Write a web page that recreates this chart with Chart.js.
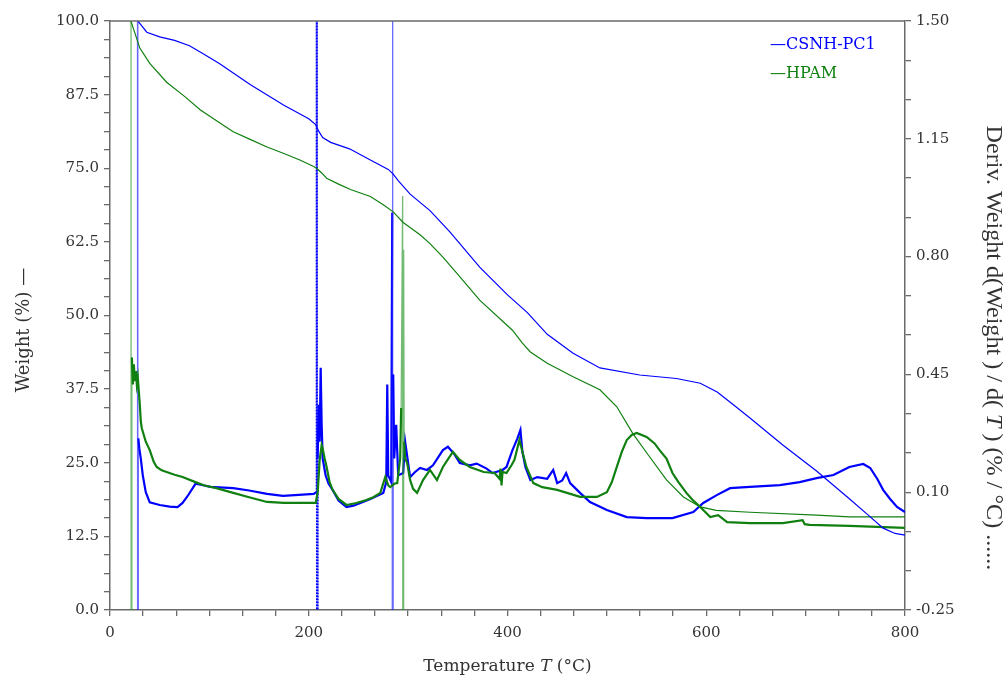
<!DOCTYPE html>
<html>
<head>
<meta charset="utf-8">
<script src="https://cdn.jsdelivr.net/npm/chart.js@4.4.0/dist/chart.umd.min.js"></script>
<style>
  html, body { margin: 0; padding: 0; background: #fff; }
  #wrap { width: 1004px; height: 680px; }
</style>
</head>
<body>
<div id="wrap"><canvas id="tga" width="1004" height="680"></canvas></div>
<script>
'use strict';

// weight curves (T in °C, weight in %)
var csnhWeightT = [28, 31, 37, 50, 65, 80, 95, 110, 141, 175, 200, 207, 210, 214, 222, 241, 262, 280, 285, 290, 302, 322, 342, 372, 400, 420, 440, 466, 493, 533, 570, 594, 611, 627, 644, 677, 711, 744, 761, 778, 790, 800];
var csnhWeight  = [100, 99.4, 98.1, 97.3, 96.7, 95.8, 94.3, 92.8, 89.2, 85.7, 83.4, 82.4, 81.3, 80.2, 79.4, 78.3, 76.4, 74.8, 74.0, 72.9, 70.6, 67.8, 64.2, 58.2, 53.5, 50.5, 46.8, 43.6, 41.1, 39.9, 39.3, 38.5, 37.0, 34.9, 32.6, 28.0, 23.6, 18.9, 16.4, 13.9, 13.0, 12.7];

var hpamWeightT = [21, 24, 30, 40, 57, 75, 91, 108, 124, 141, 158, 175, 191, 205, 208, 213, 218, 230, 242, 262, 275, 285, 295, 303, 312, 322, 335, 350, 372, 405, 415, 423, 440, 466, 493, 510, 526, 540, 560, 577, 594, 610, 644, 711, 744, 800];
var hpamWeight  = [100, 98.5, 95.4, 92.8, 89.6, 87.2, 84.9, 83.0, 81.2, 79.9, 78.6, 77.5, 76.4, 75.3, 75.0, 74.2, 73.3, 72.3, 71.4, 70.2, 68.8, 67.6, 65.8, 64.8, 63.7, 62.2, 59.9, 57.0, 52.6, 47.5, 45.3, 43.8, 41.9, 39.6, 37.4, 34.5, 30.0, 26.7, 22.1, 19.2, 17.5, 16.9, 16.6, 16.1, 15.8, 15.8];

// derivative curves (% / °C); values beyond the axis are the off-scale spikes
var csnhDerivT = [27.5, 28, 28.5, 29.5, 31, 33, 36, 40, 50, 60, 68, 73, 78, 86, 95, 101, 124, 140, 158, 174, 190, 205, 207.5, 208, 208.5, 209, 210, 211, 212, 213, 214, 217, 220, 224, 230, 238, 245, 252, 262, 275, 278, 279, 280, 283, 284, 284.3, 284.6, 285, 286, 288, 290, 295, 297, 302, 307, 312, 319, 325, 335, 340, 346, 352, 362, 369, 379, 385, 395, 399, 405, 410, 413, 415, 418, 423, 430, 440, 446, 450, 455, 459, 463, 473, 483, 500, 520, 540, 566, 587, 597, 611, 624, 644, 674, 694, 711, 728, 744, 758, 765, 772, 778, 785, 792, 800];
var csnhDeriv  = [5, -5, 0.26, 0.23, 0.2, 0.15, 0.1, 0.07, 0.062, 0.057, 0.056, 0.068, 0.088, 0.125, 0.12, 0.116, 0.112, 0.105, 0.095, 0.089, 0.092, 0.095, 0.1, 5, -5, 0.2, 0.36, 0.25, 0.47, 0.3, 0.2, 0.15, 0.125, 0.107, 0.075, 0.056, 0.06, 0.068, 0.08, 0.098, 0.13, 0.42, 0.15, 0.13, 0.93, 5, -5, 0.45, 0.2, 0.3, 0.15, 0.157, 0.25, 0.145, 0.16, 0.172, 0.166, 0.18, 0.225, 0.235, 0.215, 0.187, 0.18, 0.185, 0.17, 0.157, 0.166, 0.175, 0.225, 0.26, 0.285, 0.22, 0.175, 0.136, 0.145, 0.14, 0.166, 0.127, 0.135, 0.157, 0.127, 0.098, 0.071, 0.047, 0.026, 0.023, 0.023, 0.041, 0.068, 0.092, 0.112, 0.116, 0.121, 0.13, 0.142, 0.151, 0.175, 0.184, 0.172, 0.14, 0.107, 0.08, 0.056, 0.041];

var hpamDerivT = [21, 21.5, 22, 23, 24, 25, 26, 27, 28, 29, 30, 31, 32, 34, 36, 40, 44, 47, 52, 57, 65, 73, 86, 95, 107, 124, 140, 158, 175, 191, 207, 209, 211, 213, 214, 216, 218, 221, 224, 230, 238, 248, 258, 265, 272, 277, 280, 282, 286, 289, 292, 293, 294.5, 295, 295.5, 296, 297, 299, 302, 305, 309, 315, 322, 329, 335, 345, 352, 362, 376, 387, 392, 393, 394, 395, 399, 404, 407, 412, 415, 419, 426, 435, 450, 473, 490, 500, 505, 510, 515, 520, 525, 530, 540, 548, 553, 560, 566, 572, 580, 587, 594, 604, 612, 621, 644, 677, 697, 699, 704, 744, 800];
var hpamDeriv  = [5, -5, 0.5, 0.42, 0.48, 0.43, 0.46, 0.42, 0.44, 0.4, 0.36, 0.31, 0.29, 0.27, 0.25, 0.225, 0.19, 0.175, 0.165, 0.16, 0.152, 0.145, 0.13, 0.12, 0.112, 0.098, 0.085, 0.071, 0.068, 0.068, 0.068, 0.1, 0.196, 0.24, 0.23, 0.2, 0.175, 0.13, 0.107, 0.08, 0.062, 0.068, 0.077, 0.085, 0.098, 0.145, 0.12, 0.115, 0.125, 0.127, 0.2, 0.35, 0.98, -5, 0.82, 0.25, 0.2, 0.187, 0.136, 0.11, 0.098, 0.136, 0.166, 0.136, 0.175, 0.22, 0.196, 0.175, 0.16, 0.157, 0.14, 0.17, 0.12, 0.16, 0.157, 0.18, 0.196, 0.255, 0.22, 0.175, 0.127, 0.115, 0.107, 0.086, 0.086, 0.1, 0.13, 0.175, 0.22, 0.255, 0.27, 0.276, 0.264, 0.245, 0.225, 0.2, 0.157, 0.13, 0.098, 0.075, 0.056, 0.026, 0.032, 0.011, 0.008, 0.008, 0.017, 0.005, 0.003, 0, -0.006];

// axis labels
var xTickLabels = ['0', '200', '400', '600', '800'];
var leftTickLabels = ['0.0', '12.5', '25.0', '37.5', '50.0', '62.5', '75.0', '87.5', '100.0'];
var rightTickLabels = ['-0.25', '0.10', '0.45', '0.80', '1.15', '1.50'];
var seriesNames = ['CSNH-PC1', 'HPAM'];

var BLUE = '#0000ff';
var GREEN = '#108010';
var AXIS = '#6a6a6a';
var TEXT = '#333';
var SERIF = '"DejaVu Serif", serif';

function pts(xs, ys) {
  return xs.map(function(x, i) { return { x: x, y: ys[i] }; });
}

// major labels plus evenly spaced minor ticks between them
function tickSet(labels, parts) {
  var out = [];
  for (var i = 0; i < labels.length - 1; i++) {
    var a = parseFloat(labels[i]), b = parseFloat(labels[i + 1]);
    for (var k = 0; k < parts; k++) out.push({ value: a + (b - a) * k / parts });
  }
  out.push({ value: parseFloat(labels[labels.length - 1]) });
  return out;
}

function labelFor(labels) {
  return function(v) {
    for (var i = 0; i < labels.length; i++) {
      if (Math.abs(parseFloat(labels[i]) - v) < 1e-6) return labels[i];
    }
    return '';
  };
}

function axisBase(labels, parts) {
  return {
    type: 'linear',
    min: parseFloat(labels[0]),
    max: parseFloat(labels[labels.length - 1]),
    afterBuildTicks: function(scale) { scale.ticks = tickSet(labels, parts); },
    ticks: { autoSkip: false, maxRotation: 0, padding: 5, color: TEXT,
             font: { family: SERIF, size: 15 }, callback: labelFor(labels) },
    grid: { display: true, drawOnChartArea: false, drawTicks: true, tickLength: 6, color: AXIS, lineWidth: 1.3 },
    border: { display: true, color: AXIS, width: 1.5 }
  };
}

var xAxis = axisBase(xTickLabels, 6);
xAxis.position = 'bottom';
xAxis.ticks.padding = 8;
xAxis.afterFit = function(s) { s.height = 70; };

var yAxis = axisBase(leftTickLabels, 4);
yAxis.position = 'left';
yAxis.afterFit = function(s) { s.width = 110; };

var y2Axis = axisBase(rightTickLabels, 3);
y2Axis.position = 'right';
y2Axis.afterFit = function(s) { s.width = 99; };

// spikes (off-scale jumps) are drawn as thin, lighter strokes like in the instrument plot;
// the one inside dottedRange keeps full colour with a dotted pattern
function spikeSegment(faint, jump, dottedRange) {
  function isSpike(c) {
    var a = c.p0.parsed.y, b = c.p1.parsed.y;
    return Math.abs(a) > 2 || Math.abs(b) > 2 || Math.abs(b - a) > jump;
  }
  function isDotted(c) {
    return dottedRange && isSpike(c) && c.p0.parsed.x >= dottedRange[0] && c.p1.parsed.x <= dottedRange[1];
  }
  return {
    borderWidth: function(c) { return isDotted(c) ? 2 : (isSpike(c) ? 1.3 : undefined); },
    borderColor: function(c) { return isDotted(c) ? BLUE : (isSpike(c) ? faint : undefined); },
    borderDash: function(c) { return isDotted(c) ? [2, 1] : undefined; }
  };
}

// titles with italic T, top frame line and the in-plot legend
var decorations = {
  id: 'decorations',
  afterDraw: function(chart) {
    var ctx = chart.ctx, a = chart.chartArea;
    ctx.save();
    ctx.strokeStyle = AXIS;
    ctx.lineWidth = 1.5;
    ctx.beginPath();
    ctx.moveTo(a.left, a.top);
    ctx.lineTo(a.right, a.top);
    ctx.stroke();

    function mixed(parts, x, y, size, family, fitWidth) {
      function widthAt(sz) {
        var w = 0;
        parts.forEach(function(p) {
          ctx.font = (p[1] ? 'italic ' : '') + sz + 'px ' + family;
          w += ctx.measureText(p[0]).width;
        });
        return w;
      }
      var w = widthAt(size);
      if (fitWidth) { size = size * fitWidth / w; w = widthAt(size); }
      var cx = x - w / 2;
      ctx.textAlign = 'left';
      parts.forEach(function(p) {
        ctx.font = (p[1] ? 'italic ' : '') + size + 'px ' + family;
        ctx.fillText(p[0], cx, y);
        cx += ctx.measureText(p[0]).width;
      });
    }

    ctx.fillStyle = TEXT;
    ctx.textBaseline = 'middle';
    mixed([['Temperature ', false], ['T', true], [' (°C)', false]], (a.left + a.right) / 2, 667, 17, SERIF);

    ctx.save();
    ctx.translate(24, 330);
    ctx.rotate(-Math.PI / 2);
    mixed([['Weight (%) —', false]], 0, 0, 18, SERIF);
    ctx.restore();

    ctx.save();
    ctx.translate(993, 348);
    ctx.rotate(Math.PI / 2);
    mixed([['Deriv. Weight d(Weight ) / d( ', false], ['T', true], [' ) (% / °C) ......', false]], 0, 0, 19, '"Liberation Serif", serif', 445);
    ctx.restore();

    ctx.font = '16px ' + SERIF;
    ctx.textAlign = 'left';
    ctx.fillStyle = BLUE;
    ctx.fillText('—' + seriesNames[0], 770, 45);
    ctx.fillStyle = GREEN;
    ctx.fillText('—' + seriesNames[1], 770, 74);
    ctx.restore();
  }
};

new Chart(document.getElementById('tga'), {
  type: 'line',
  data: {
    datasets: [
      { label: seriesNames[0] + ' weight', data: pts(csnhWeightT, csnhWeight), yAxisID: 'y',
        borderColor: BLUE, borderWidth: 1.2 },
      { label: seriesNames[1] + ' weight', data: pts(hpamWeightT, hpamWeight), yAxisID: 'y',
        borderColor: GREEN, borderWidth: 1.2 },
      { label: seriesNames[1] + ' deriv', data: pts(hpamDerivT, hpamDeriv), yAxisID: 'y2',
        borderColor: GREEN, borderWidth: 2.2, segment: spikeSegment('rgba(40,150,40,0.65)', 0.5) },
      { label: seriesNames[0] + ' deriv', data: pts(csnhDerivT, csnhDeriv), yAxisID: 'y2',
        borderColor: BLUE, borderWidth: 2.2, segment: spikeSegment('rgba(40,40,255,0.7)', 9, [207, 209]) }
    ]
  },
  options: {
    responsive: false,
    animation: false,
    devicePixelRatio: 1,
    layout: { padding: { top: 21, left: 0, right: 0, bottom: 0 } },
    elements: { point: { radius: 0 }, line: { tension: 0, fill: false } },
    plugins: { legend: { display: false }, tooltip: { enabled: false } },
    scales: { x: xAxis, y: yAxis, y2: y2Axis }
  },
  plugins: [decorations]
});
</script>
</body>
</html>
